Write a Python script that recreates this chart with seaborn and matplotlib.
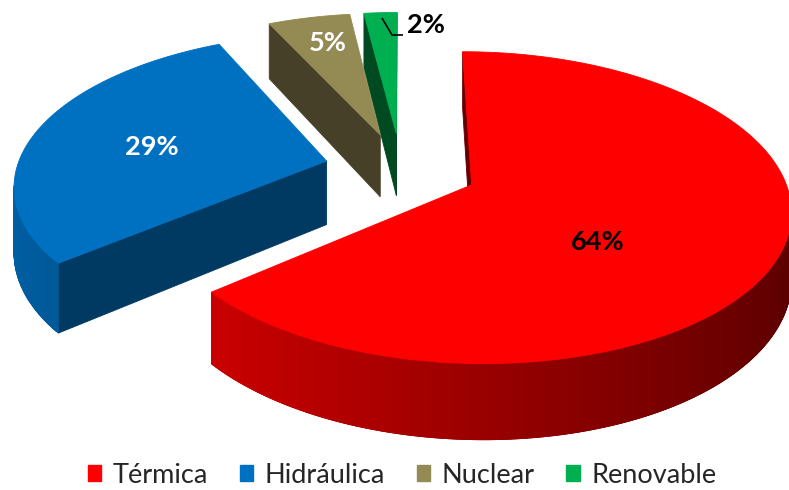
import numpy as np
import matplotlib
matplotlib.use("Agg")
import matplotlib.pyplot as plt
from matplotlib.patches import Polygon, Patch
from matplotlib.colors import to_rgb
import seaborn as sns

# Electricity generation mix
categories = ["Térmica", "Hidráulica", "Nuclear", "Renovable"]
shares = [64, 29, 5, 2]
colors = ["#FF0000", "#0070C0", "#948A54", "#00B050"]
label_colors = ["black", "white", "white", "black"]

sns.set_theme(style="white")
plt.rcParams["font.family"] = ["Lato", "DejaVu Sans"]

W, H = 789, 490
fig = plt.figure(figsize=(W / 100, H / 100), dpi=100)
ax = fig.add_axes([0, 0, 1, 1])
ax.set_xlim(0, W)
ax.set_ylim(H, 0)
ax.axis("off")

# 3D pie projection parameters (pixel space)
CX, CY = 401, 169       # centre of the un-exploded pie top
R = 310                 # horizontal radius
RT = 148                # vertical radius (tilt)
PERSP = 0.144           # perspective strength
DEPTH = 64              # thickness of the pie
EXPLODE = 0.248         # radial offset of each slice
CAM = np.array([0.0, -1.0 / PERSP])


def project(x, y, z=0.0):
    s = 1.0 / (1.0 + PERSP * y)
    return (CX + R * x * s, CY - RT * y * s + DEPTH * z * s)


def unit(a):
    return np.array([np.sin(a), np.cos(a)])


def shade(c, f):
    return tuple(np.clip(np.array(to_rgb(c)) * f, 0, 1))


def wall(points, color):
    top = [project(*p, 0) for p in points]
    bot = [project(*p, 1) for p in points[::-1]]
    ax.add_patch(Polygon(top + bot, closed=True, facecolor=color,
                         edgecolor=color, linewidth=0.6))


bounds = np.concatenate([[0], np.cumsum(shares)]) / sum(shares) * 2 * np.pi
geo = []
for i in range(len(shares)):
    a0, a1 = bounds[i], bounds[i + 1]
    mid = 0.5 * (a0 + a1)
    apex = EXPLODE * unit(mid)
    geo.append((i, a0, a1, mid, apex))

# draw back slices first
for i, a0, a1, mid, apex in sorted(geo, key=lambda g: -g[4][1]):
    col = colors[i]
    # radial faces
    n0 = np.array([-np.cos(a0), np.sin(a0)])
    if n0 @ (CAM - apex) > 0:
        wall([apex, apex + unit(a0)], shade(col, 0.40 - 0.15 * n0[1]))
    n1 = np.array([np.cos(a1), -np.sin(a1)])
    if n1 @ (CAM - apex) > 0:
        wall([apex, apex + unit(a1)], shade(col, 0.40 - 0.15 * n1[1]))
    # curved outer wall, shaded strip by strip; each strip overlaps the next
    ts = np.linspace(a0, a1, max(8, int(300 * (a1 - a0) / np.pi)))
    for k in range(len(ts) - 1):
        t0, t1 = ts[k], ts[k + 1]
        n = unit(0.5 * (t0 + t1))
        if n @ (CAM - (apex + n)) > 0:
            t2 = ts[min(k + 2, len(ts) - 1)]
            seg = [apex + unit(t) for t in np.linspace(t0, t2, 4)]
            wall(seg, shade(col, 0.6 - 0.25 * n[0]))
    # top face
    arc = [project(*(apex + unit(t))) for t in np.linspace(a0, a1, 200)]
    ax.add_patch(Polygon([project(*apex)] + arc, closed=True, facecolor=col,
                         edgecolor=col, linewidth=0.6))

# value labels
label_pos = [(598, 242), (152, 147), (328, 43), (426, 25)]
for v, (lx, ly), lc in zip(shares, label_pos, label_colors):
    ax.text(lx, ly, f"{v}%", ha="center", va="center", color=lc,
            fontsize=19.5, fontweight="bold")
ax.plot([382, 392, 403], [18, 35, 35], color="black", lw=1.2,
        solid_capstyle="butt")

handles = [Patch(facecolor=c, edgecolor=c, label=l) for c, l in zip(colors, categories)]
fig.legend(handles=handles, loc="center", bbox_to_anchor=(402 / W, 1 - 475 / H),
           ncol=4, frameon=False, fontsize=19.5, handlelength=0.5,
           handleheight=0.58, handletextpad=0.42, columnspacing=1.17,
           borderaxespad=0, borderpad=0)

fig.savefig("out.png", dpi=100)
